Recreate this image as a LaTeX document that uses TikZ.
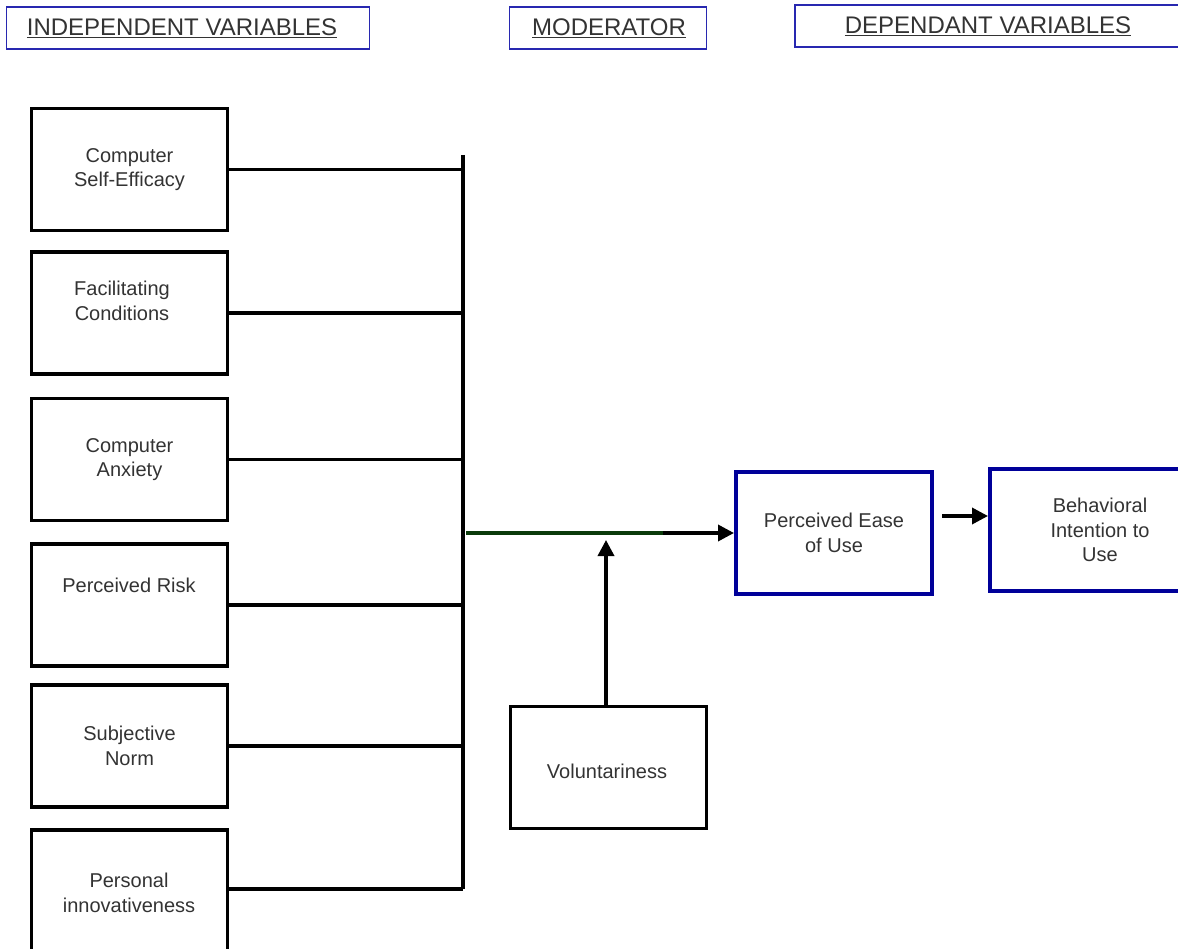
\documentclass[tikz,border=0pt]{standalone}
\usepackage{fontspec}
\setmainfont{Liberation Sans}
\usetikzlibrary{arrows.meta}
\definecolor{hdrblue}{HTML}{2828B0}
\definecolor{boxblue}{HTML}{000099}
\definecolor{dkgreen}{HTML}{0A3A0A}
\definecolor{txt}{HTML}{333333}
\begin{document}
\begin{tikzpicture}[x=1pt,y=-1pt,
  hdr/.style={draw=hdrblue,line width=1.8pt,minimum height=42pt,inner sep=0pt},
  hdrtxt/.style={text=txt,font=\fontsize{24}{28}\selectfont,inner sep=0pt},
  box/.style={draw=black,line width=3.5pt,minimum width=196pt,minimum height=122pt,inner sep=0pt,
    text=txt,align=center,font=\fontsize{20}{24.5}\selectfont},
  bbox/.style={box,draw=boxblue,line width=4pt},
  conn/.style={line width=3.5pt},
  arr/.style={line width=3.5pt,-{Triangle[length=16pt,width=16pt]}}]
\useasboundingbox (0,0) rectangle (1178,949);
% headers
\node[hdr,minimum width=363pt] (hi) at (188,28) {};
\node[hdrtxt] (hit) at (182,28) {\underline{INDEPENDENT VARIABLES}};
\node[hdr,minimum width=197pt] (hm) at (608,28) {};
\node[hdrtxt] (hmt) at (609,28) {\underline{MODERATOR}};
\node[hdr,minimum width=384pt] (hd) at (987,26) {};
\node[hdrtxt] (hdt) at (988,26) {\underline{DEPENDANT VARIABLES}};
% independent boxes
\node[box] (cse) at (129.5,169.5) {Computer\\Self-Efficacy};
\node[box] (fc) at (129.5,313) {};
\node[text=txt,align=center,font=\fontsize{20}{24.5}\selectfont] (fct) at (122,301) {Facilitating\\Conditions};
\node[box] (ca) at (129.5,459.5) {Computer\\Anxiety};
\node[box] (pr) at (129.5,605) {};
\node[text=txt,font=\fontsize{20}{24.5}\selectfont] (prt) at (129,585) {Perceived Risk};
\node[box] (sn) at (129.5,746) {Subjective\\Norm};
\node[box] (pi) at (129.5,891) {};
\node[text=txt,align=center,font=\fontsize{20}{24.5}\selectfont] (pit) at (129,893) {Personal\\innovativeness};
% bus
\coordinate (bt) at (463,155);
\coordinate (bb) at (463,889);
\draw[conn] (bt) -- (bb);
\draw[conn] (cse.east) -- (cse.east -| bt);
\draw[conn] (fc.east) -- (fc.east -| bt);
\draw[conn] (ca.east) -- (ca.east -| bt);
\draw[conn] (pr.east) -- (pr.east -| bt);
\draw[conn] (sn.east) -- (sn.east -| bt);
\draw[conn] (pi.east |- bb) -- (bb);
% dependent
\node[bbox] (peou) at (834,533) {Perceived Ease\\of Use};
\node[bbox,minimum width=220pt] (bi) at (1100,530) {Behavioral\\Intention to\\Use};
% moderator
\node[box] (vol) at (608.5,767.5) {};
\node[text=txt,font=\fontsize{20}{24.5}\selectfont] (volt) at (607,771) {Voluntariness};
\coordinate (gs) at (466,533);
\coordinate (ge) at (663,533);
\draw[line width=3.5pt,dkgreen] (gs) -- (ge);
\draw[arr] (ge) -- (peou.west);
\coordinate (mt) at (606,540);
\draw[arr] (vol.north -| mt) -- (mt);
\coordinate (a1) at (942,516);
\draw[arr] (a1) -- (a1 -| bi.west);
\end{tikzpicture}
\end{document}
